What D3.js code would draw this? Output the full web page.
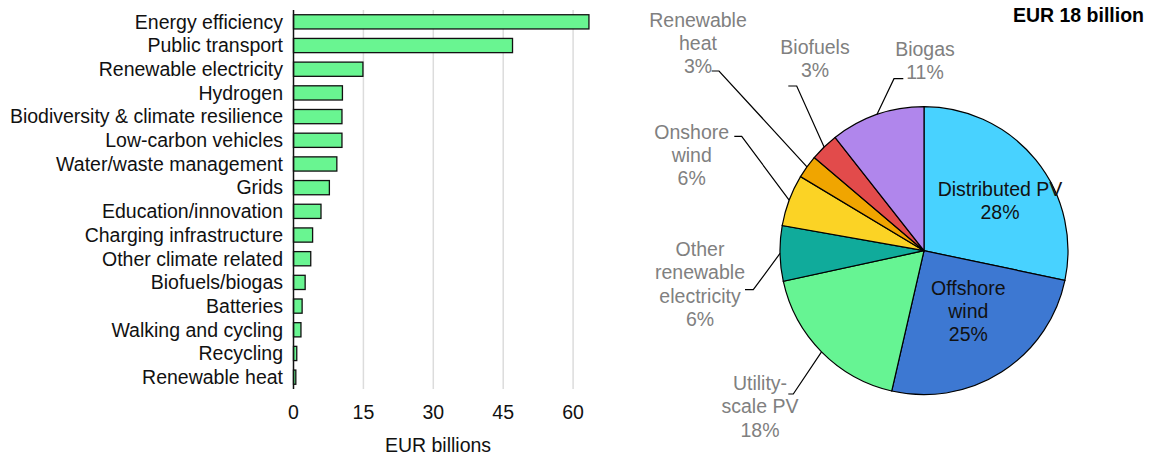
<!DOCTYPE html>
<html><head><meta charset="utf-8">
<script src="https://cdn.jsdelivr.net/npm/d3@7"></script>
<style>body{margin:0;background:#fff}svg{display:block;font-family:"Liberation Sans",Arial,sans-serif}</style>
</head><body><svg id="c" width="1151" height="458"></svg>
<script>
// Bar chart data
const barCategories = ["Energy efficiency","Public transport","Renewable electricity","Hydrogen","Biodiversity & climate resilience","Low-carbon vehicles","Water/waste management","Grids","Education/innovation","Charging infrastructure","Other climate related","Biofuels/biogas","Batteries","Walking and cycling","Recycling","Renewable heat"];
const barValues = [63.4,47.0,14.9,10.5,10.4,10.4,9.3,7.7,5.9,4.1,3.7,2.5,1.85,1.6,0.7,0.5];
const xTicks = [0,15,30,45,60];
const xTitle = "EUR billions";

// Pie chart data
const pieTitle = "EUR 18 billion";
const pieLabels = [["Distributed PV"],["Offshore","wind"],["Utility-","scale PV"],["Other","renewable","electricity"],["Onshore","wind"],["Renewable","heat"],["Biofuels"],["Biogas"]];
const pieValues = [28.3,25.3,18.0,6.2,5.8,2.6,3.2,10.6];
const pieColors = ["#48d2ff","#3d78d2","#66f493","#10ab9b","#fbd325","#f0a500","#e24b4b","#b086ec"];

const svg = d3.select("#c");
const FS = 19.5;

// ---------- Bar chart ----------
const x = d3.scaleLinear().domain([0,65]).range([293.5, 293.5 + 65*4.66]);
const y = d3.scaleBand().domain(barCategories).range([10,389]).paddingInner(0.4).paddingOuter(0.2);

const g = svg.append("g");
g.selectAll("line.grid").data(xTicks.slice(1)).join("line")
  .attr("x1",d=>x(d)).attr("x2",d=>x(d)).attr("y1",10).attr("y2",389)
  .attr("stroke","#dcdcdc").attr("stroke-width",1.5);
g.selectAll("rect.bar").data(barValues).join("rect")
  .attr("x",x(0)).attr("y",(d,i)=>y(barCategories[i]))
  .attr("width",d=>x(d)-x(0)).attr("height",y.bandwidth())
  .attr("fill","#69f591").attr("stroke","#111").attr("stroke-width",1.3);
g.append("line").attr("x1",x(0)).attr("x2",x(0)).attr("y1",10).attr("y2",389)
  .attr("stroke","#111").attr("stroke-width",1.5);
g.selectAll("text.cat").data(barCategories).join("text")
  .attr("x",283).attr("y",d=>y(d)+y.bandwidth()/2).attr("dy","0.35em")
  .attr("text-anchor","end").attr("font-size",FS).attr("fill","#111").text(d=>d);
g.selectAll("text.tick").data(xTicks).join("text")
  .attr("x",d=>x(d)).attr("y",412).attr("dy","0.35em")
  .attr("text-anchor","middle").attr("font-size",FS).attr("fill","#111").text(d=>d);
g.append("text").attr("x",438).attr("y",445).attr("dy","0.35em")
  .attr("text-anchor","middle").attr("font-size",FS).attr("fill","#111").text(xTitle);

// ---------- Pie chart ----------
const cx = 924, cy = 250.7, R = 144;
const pie = d3.pie().sort(null).value(d=>d)(pieValues);
const arc = d3.arc().innerRadius(0).outerRadius(R);
const pg = svg.append("g").attr("transform",`translate(${cx},${cy})`);
pg.selectAll("path").data(pie).join("path")
  .attr("d",arc).attr("fill",(d,i)=>pieColors[i]).attr("stroke","#000").attr("stroke-width",1.2);

const total = d3.sum(pieValues);
const pct = v => Math.round(v/total*100) + "%";

// label layout: inside labels [x, firstLineY]; outside: [x, firstLineY, elbowX, elbowY, tickEndX]
const layout = [
  {inside:true, x:1000, y:189.3},
  {inside:true, x:968.3, y:287.7},
  {x:760, y:383.3, ex:793.3, ey:394, tx:788.3},
  {x:700, y:249.3, ex:753.3, ey:289.7, tx:745},
  {x:691.7, y:131.7, ex:741.7, ey:136.3, tx:734.3},
  {x:698, y:20, ex:719, ey:71, tx:711.7},
  {x:815, y:46.7, ex:796.7, ey:86, tx:788.3},
  {x:925, y:49, ex:894, ey:78.7, tx:903.3}
];
const LH = 23.3;
pie.forEach((d,i)=>{
  const L = layout[i];
  const lines = pieLabels[i].concat([pct(d.value)]);
  const t = svg.append("text").attr("text-anchor","middle").attr("font-size",FS)
    .attr("fill", L.inside ? "#111" : "#808080");
  lines.forEach((s,k)=>{
    t.append("tspan").attr("x",L.x).attr("y",L.y + k*LH).attr("dy","0.35em").text(s);
  });
  if(!L.inside){
    const a = (d.startAngle + d.endAngle)/2;
    const px = cx + R*Math.sin(a), py = cy - R*Math.cos(a);
    svg.append("polyline")
      .attr("points",`${px},${py} ${L.ex},${L.ey} ${L.tx},${L.ey}`)
      .attr("fill","none").attr("stroke","#000").attr("stroke-width",1.2);
  }
});
svg.append("text").attr("x",1144).attr("y",15).attr("dy","0.35em").attr("text-anchor","end")
  .attr("font-size",FS).attr("font-weight","bold").attr("fill","#000").text(pieTitle);
</script></body></html>
